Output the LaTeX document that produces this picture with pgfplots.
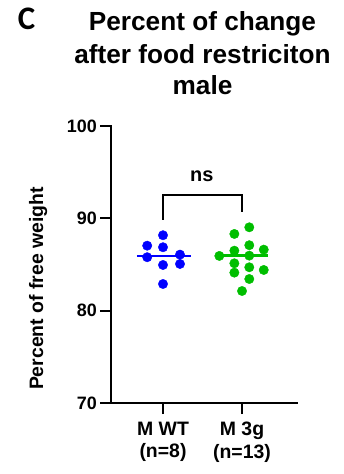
\documentclass[border=0pt]{standalone}
\usepackage{fontspec}
\setmainfont{Liberation Sans}
\newfontfamily\calib{Carlito}
\usepackage{pgfplots}
\pgfplotsset{compat=1.18}
\definecolor{gblue}{RGB}{0,0,255}
\definecolor{ggreen}{RGB}{0,190,0}
\begin{document}
\begin{tikzpicture}[x=1bp,y=1bp]
\path[use as bounding box] (0,0) rectangle (343,-474);
\begin{axis}[
  at={(111bp,-403bp)}, anchor=south west,
  scale only axis, width=185.7bp, height=277bp,
  xmin=-0.658, xmax=1.692, ymin=70, ymax=100,
  axis lines*=left, axis line style={line width=2.3bp, line cap=rect},
  clip=false,
  xtick={0,1}, xticklabels={{M WT\\(n=8)},{M 3g\\(n=13)}},
  ytick={70,80,90,100},
  tick align=outside, major tick length=11bp,
  tick style={line width=2.3bp, black},
  /pgf/number format/assume math mode=true,
  yticklabel style={font=\fontsize{18}{18}\selectfont\bfseries, inner sep=0pt, xshift=-3bp},
  xticklabel style={font=\fontsize{19.5}{22.5}\selectfont\bfseries, align=center, inner sep=0pt, yshift=-8bp},
]
% WT points
\addplot[only marks, mark=*, mark size=4.7bp, gblue, mark options={draw=none, fill=gblue}] coordinates {
(0,88.17) (-0.2,87.04) (0,86.87) (-0.2,85.79) (0.215,86.07) (0,84.95) (0.215,85.06) (0,82.89)};
% 3g points
\addplot[only marks, mark=*, mark size=4.7bp, ggreen, mark options={draw=none, fill=ggreen}] coordinates {
(1.092,89.03) (0.903,88.31) (1.092,87.09) (0.903,86.50) (1.275,86.61) (0.713,85.93) (1.092,85.96) (0.903,85.13) (1.092,84.70) (1.275,84.41) (0.903,84.12) (1.092,83.43) (1.0,82.13)};
% means
\addplot[gblue, line width=2.7bp] coordinates {(-0.33,85.93) (0.35,85.93)};
\addplot[ggreen, line width=2.7bp] coordinates {(0.713,85.96) (1.333,85.96)};
% bracket
\addplot[black, line width=2bp, line join=miter] coordinates {(0,89.83) (0,92.53) (1,92.53) (1,90.73)};
\node[anchor=base, font=\fontsize{20}{20}\selectfont\bfseries, inner sep=0pt] at (axis cs:0.49,93.97) {ns};
\end{axis}
\node[anchor=base, inner sep=0pt, font=\fontsize{26.3}{26.3}\selectfont\bfseries] at (202.5,-30.3) {Percent of change};
\node[anchor=base, inner sep=0pt, font=\fontsize{26.3}{26.3}\selectfont\bfseries] at (202.5,-63.3) {after food restriciton};
\node[anchor=base, inner sep=0pt, font=\fontsize{26.3}{26.3}\selectfont\bfseries] at (202.5,-95) {male};
\node[anchor=base, inner sep=0pt, font=\fontsize{33}{33}\selectfont\calib\bfseries] at (26.5,-29.3) {C};
\node[anchor=base, rotate=90, inner sep=0pt, font=\fontsize{19.5}{19.5}\selectfont\bfseries] at (43,-288.5) {Percent of free weight};
\end{tikzpicture}
\end{document}
